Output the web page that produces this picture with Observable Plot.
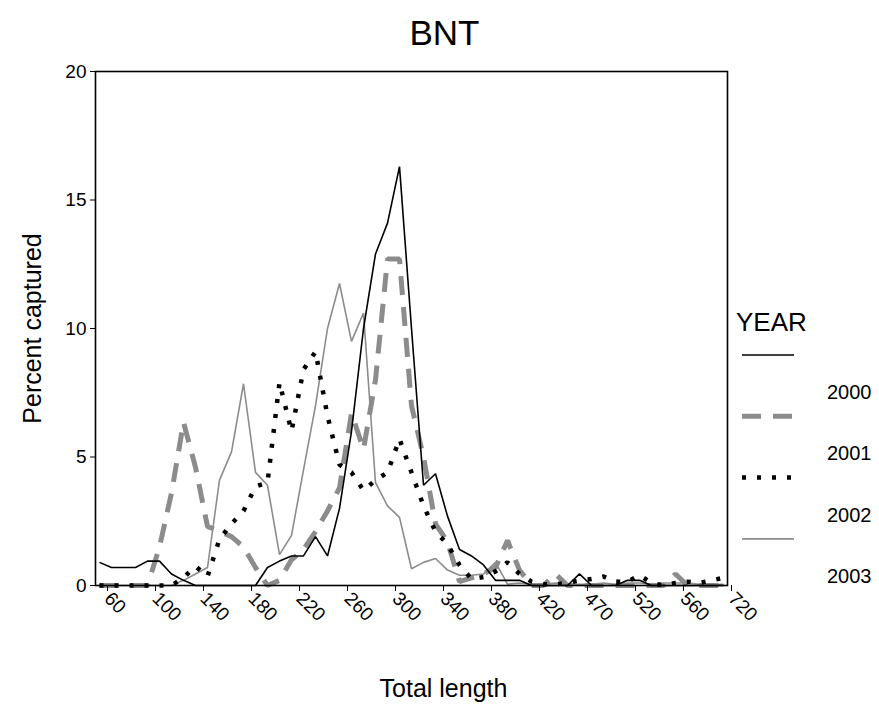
<!DOCTYPE html>
<html>
<head>
<meta charset="utf-8">
<script src="https://cdn.jsdelivr.net/npm/d3@7"></script>
<script src="https://cdn.jsdelivr.net/npm/@observablehq/plot@0.6"></script>
<style>
  body { margin: 0; background: #fff; }
  svg { font-family: "Liberation Sans", Arial, sans-serif; }
</style>
</head>
<body>
<div id="chart"></div>
<script>
// Length classes (categories on the x axis)
const lengths = [60,70,80,90,100,110,120,130,140,150,160,170,180,190,200,210,220,230,240,250,
                 260,270,280,290,300,310,320,330,340,350,360,370,380,390,400,410,420,430,440,450,
                 470,480,490,510,520,530,540,550,560,570,580,610,720];
const xTickLabels = [60,100,140,180,220,260,300,340,380,420,470,520,560,720];
const yTickLabels = [0,5,10,15,20];
const years = ["2000","2001","2002","2003"];

const pct2000 = [0.9,0.7,0.7,0.7,0.95,0.95,0.45,0.2,0,0,0,0,0,0,0.7,0.95,1.15,1.15,1.9,1.15,
                 3.0,6.0,10.0,12.9,14.1,16.3,10.0,3.9,4.35,2.7,1.4,1.15,0.8,0.2,0.2,0.2,0,0,0,0,
                 0.45,0,0,0,0.2,0.2,0,0,0,0,0,0,0];
const pct2001 = [0,0,0,0,0,1.5,3.6,6.35,4.6,2.3,2.1,1.9,1.5,0.7,0,0.2,1.0,1.4,2.1,2.9,
                 3.8,6.7,5.3,8.0,12.7,12.7,7.0,5.0,2.4,1.7,0.15,0.3,0.45,0.7,1.75,0.6,0,0,0.45,0,
                 0,0,0,0,0,0,0,0,0.45,0,0,0,0];
const pct2002 = [0,0,0,0,0,0,0,0.3,0.75,0.35,1.8,2.4,2.9,3.85,4.0,7.9,6.0,8.4,9.1,6.6,
                 4.7,4.4,3.7,4.1,4.4,5.7,4.4,3.1,2.1,1.6,0.8,0.25,0.33,0.55,0.9,0.45,0.15,0.05,0.05,0.1,
                 0.2,0.25,0.35,0.15,0.15,0.4,0.1,0,0.1,0.15,0.1,0.2,0.3];
const pct2003 = [0,0,0,0,0,0,0,0.2,0.45,0.7,4.1,5.2,7.85,4.4,3.9,1.2,1.95,4.5,7.0,10.0,
                 11.75,9.5,10.6,4.0,3.1,2.65,0.65,0.9,1.05,0.6,0.4,0.4,0.45,0.9,0.05,0.1,0.05,0.05,0.1,0.05,
                 0.05,0.05,0.1,0.05,0.1,0.1,0.05,0.1,0.1,0.1,0.05,0.05,0.05];

const seriesValues = [pct2000, pct2001, pct2002, pct2003];
const rows = years.flatMap((yr, k) => lengths.map((len, i) => ({year: yr, len, pct: seriesValues[k][i]})));

const styleOf = {
  "2000": {stroke: "#000", strokeWidth: 1.6, strokeDasharray: null},
  "2001": {stroke: "#8c8c8c", strokeWidth: 5, strokeDasharray: "19,12"},
  "2002": {stroke: "#000", strokeWidth: 4.5, strokeDasharray: "4,11"},
  "2003": {stroke: "#8c8c8c", strokeWidth: 1.6, strokeDasharray: null}
};
const drawOrder = ["2001","2003","2002","2000"];

const lineMarks = drawOrder.map(yr => Plot.lineY(rows.filter(d => d.year === yr), {
  x: "len", y: "pct",
  stroke: styleOf[yr].stroke,
  strokeWidth: styleOf[yr].strokeWidth,
  strokeDasharray: styleOf[yr].strokeDasharray,
  strokeLinejoin: "miter",
  strokeLinecap: "butt"
}));

const chart = Plot.plot({
  width: 879,
  height: 706,
  marginLeft: 95,
  marginRight: 152,
  marginTop: 71,
  marginBottom: 121,
  style: {fontFamily: "Liberation Sans, Arial, sans-serif", fontSize: "19px", color: "#000", background: "#fff"},
  x: {type: "point", domain: lengths, padding: 0},
  y: {domain: [0, 20]},
  marks: [
    ...lineMarks,
    Plot.axisY({ticks: yTickLabels, tickSize: 5, tickPadding: 4, label: null, fontSize: 19}),
    Plot.axisX({ticks: xTickLabels, tickSize: 6, tickPadding: 4, tickRotate: 45, label: null, fontSize: 19, dx: 8}),
    Plot.frame({stroke: "#000", strokeWidth: 1.6}),
    Plot.text(["BNT"], {frameAnchor: "top", dx: 33, dy: -38, fontSize: 35, textAnchor: "middle", lineAnchor: "middle"}),
    Plot.text(["Percent captured"], {frameAnchor: "left", dx: -63, rotate: -90, fontSize: 25, textAnchor: "middle", lineAnchor: "middle"}),
    Plot.text(["Total length"], {frameAnchor: "bottom", dx: 32, dy: 103, fontSize: 25, textAnchor: "middle", lineAnchor: "middle"})
  ]
});

document.getElementById("chart").appendChild(chart);

// Legend to the right of the frame
const svg = d3.select(chart);
const lg = svg.append("g")
  .attr("font-family", "Liberation Sans, Arial, sans-serif")
  .attr("fill", "#000")
  .attr("text-anchor", "start");
lg.append("text").attr("x", 736).attr("y", 322).attr("dy", "0.35em").attr("font-size", 26).text("YEAR");
years.forEach((yr, k) => {
  const ySw = 355 + k * 61.3;
  const st = styleOf[yr];
  lg.append("line")
    .attr("x1", 742).attr("x2", 794).attr("y1", ySw).attr("y2", ySw)
    .attr("stroke", st.stroke).attr("stroke-width", st.strokeWidth)
    .attr("stroke-dasharray", st.strokeDasharray);
  lg.append("text").attr("x", 827).attr("y", ySw + 37).attr("dy", "0.35em")
    .attr("font-size", 20).text(yr);
});
</script>
</body>
</html>
